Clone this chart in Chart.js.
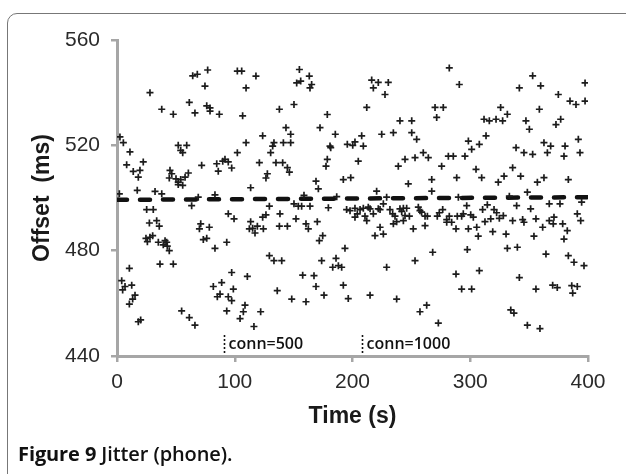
<!DOCTYPE html>
<html>
<head>
<meta charset="utf-8">
<script src="https://cdn.jsdelivr.net/npm/chart.js@4.4.1/dist/chart.umd.min.js"></script>
<style>
  html, body { margin: 0; padding: 0; background: #fff; }
  #wrap { position: relative; width: 626px; height: 474px; overflow: hidden; }
  #frame { position: absolute; left: 7px; top: 13px; width: 680px; height: 520px;
           border: 1.5px solid #777; border-radius: 10px; }
  #chart { position: absolute; left: 0; top: 0; }
  #caption { position: absolute; left: 18px; top: 440px; font-family: "Open Sans", sans-serif;
             font-size: 20px; font-weight: 600; color: #111; white-space: nowrap; letter-spacing: -0.1px; }
  #caption b { font-weight: 700; }
</style>
</head>
<body>
<div id="wrap">
  <div id="frame"></div>
  <canvas id="chart" width="626" height="474"></canvas>
  <div id="caption"><b>Figure 9</b> Jitter (phone).</div>
</div>
<script>
// axis ticks
const xTicks = [0, 100, 200, 300, 400];
const yTicks = [440, 480, 520, 560];

// jitter samples: [time (s), offset (ms)]
const jitterPoints = [
  // 0 - 100 s, upper half
  [2.5,523.2],[5.4,521],[11,517.5],[8.2,512.6],[22.3,513.7],[13.8,510.1],[19.5,510.5],[18.1,507.9],
  [28,540],[38,533.7],[47.8,531.8],[64.3,546.4],[68.2,547],[77,548.6],[74.7,542.5],[61.4,536.3],
  [66.2,532.3],[76.2,535],[79,534.2],[79,533],[86.9,531.8],[52,520],[59.2,520],[54.1,518.1],
  [55.8,517.2],[45,510.5],[46.5,509.2],[44.4,507.6],[50.1,507.3],[52,506],[54.1,507],[57.8,507.9],
  [60.6,509.5],[55.8,504.8],[52,505.1],[71.9,512.4],[84.7,513],[86,510.2],[91.7,514.7],[89.8,514],
  [94.5,513.7],[97.4,511.4],[2,501.6],[17.2,502.9],[32.3,502.5],[38,501.6],[69,500.3],[83.2,501.2],
  // 0 - 100 s, lower half
  [63.4,497.1],[25.2,495.6],[30.8,495.6],[27.5,490.5],[33.7,491.4],[35.9,489.3],[24.6,484.7],[28,485.1],
  [30.3,485.7],[25.8,483.4],[35.1,483.2],[40.8,483.8],[39.3,482.2],[42.2,483.2],[42.7,481.7],[44.4,480],
  [36.5,474.9],[47.8,474.9],[10.5,473.3],[4,468.6],[6.8,466.4],[4.8,465.1],[12.5,466.9],[15.3,463.1],
  [13.3,461.6],[10.5,459.7],[20.1,453.7],[18.1,453],[71.1,490.2],[70,488.3],[78.4,488.9],[73.3,484.2],
  [76.2,484.7],[83.2,480.9],[93.2,483.2],[94.5,494],[99.4,492.1],[97.4,471.7],[81.8,466.4],[88.9,467.9],
  [98.8,465.4],[87.5,463.5],[85.2,462.5],[94.5,462.5],[97.4,461],[93.2,457.1],[54.9,457.1],[61.4,454.6],
  [66.2,451.7],
  // 100 - 200 s, upper half
  [102.2,548.2],[105.9,548.2],[118,546.3],[109.6,541.8],[106.7,531.2],[109.6,521],[102.2,517.2],[113.5,503.9],
  [120.9,513.4],[123.7,523.6],[126.5,507.6],[127.7,509.2],[130.5,517.2],[132.2,519.7],[133.3,521],[135,513.4],
  [137.9,533.7],[140.7,513.4],[141.3,521],[143.5,526.7],[147.5,524.2],[147.5,521],[144.7,511.5],[146.4,509.8],
  [150.3,535.5],[154.9,548.8],[152.6,543.7],[156,544.4],[163.3,546.3],[165.3,543.1],[163.9,541.8],[158.8,501],
  [169,506.4],[171,503.5],[172.4,526.7],[178.6,531.7],[185.4,524.2],[180.9,519.7],[181.5,519.1],[178.6,514.7],
  [177.5,512.1],[186.6,500.5],[192.2,507],[195.6,520.4],[198.5,507.7],[200.2,520],
  // 100 - 200 s, lower half
  [129.4,496.9],[150.3,497.8],[154,496.9],[156.8,496.9],[163.9,496.9],[179.5,496.3],[195,495.6],[197.9,495.2],
  [113.5,491],[115.2,488.5],[112.4,488.3],[117.2,486.7],[119.2,489.3],[124.3,488.3],[123.7,492.7],[126.5,493.6],
  [138.4,494],[137.9,489.3],[144.7,489.3],[152,492.1],[160.5,490.2],[162.5,488.3],[170.1,491],[174.7,485.7],
  [171.8,483.8],[193.6,480.9],[129.4,478.1],[133.3,476.2],[139.9,476.2],[173.8,476.2],[186,477.1],[183.2,473.7],
  [188,474.3],[190.8,473.7],[110.7,470.2],[157.7,470.7],[167.3,470.5],[108.7,459.3],[107.3,456.8],[104.5,454.2],
  [122,456.8],[116.3,451.2],[136.1,464.8],[148.4,461.6],[160.5,460.6],[169,466.4],[175.8,463.1],[192.2,466.9],
  [196.4,461.8],
  // 200 - 300 s, upper half
  [282.2,549.4],[290.7,543.1],[216.3,544.8],[221.9,543.9],[230.4,543.9],[217.7,541.8],[227.6,539.3],[212.1,534.4],
  [270.1,534.4],[277.1,534.4],[271.5,530.6],[240.3,529.3],[250.3,529.3],[234.7,524.8],[224.8,524.2],[250.3,524.8],
  [254.5,522.3],[207.8,523.6],[202.1,521.3],[209.2,519.7],[204.9,514],[238.9,512.1],[244.6,514.7],[253.1,515.3],
  [260.1,517.2],[264.4,515.3],[275.7,512.1],[281.4,515.9],[285.6,515.9],[295.5,515.9],[298.4,521.6],[301.2,518.5],
  [247.4,505.4],[267.3,507],[267.3,502.6],[288.5,507.7],[220.5,502.6],[229,500.3],[289.9,500.3],
  // 200 - 300 s, lower half
  [202.1,496.1],[206.4,495.6],[209.2,496.1],[213.4,496.5],[214.9,495.9],[204.1,494],[202.1,492.7],[210.6,493.1],
  [212.1,491.4],[217.7,494],[221.9,495.9],[226.2,497.8],[223.4,495.6],[231.8,495.6],[234.1,494],[236.1,493.1],
  [234.7,490.2],[240.3,495.9],[243.2,496.1],[246,496.1],[241.8,494.9],[243.2,491.4],[248.3,493.1],[244.6,493.3],
  [237.5,491],[255.9,496.5],[257.3,495.2],[261.6,493.1],[263.6,493.1],[258.7,494.6],[272,493.1],[273.7,494.4],
  [276.6,495.6],[280,491.8],[282.2,493.1],[284.2,490.8],[280,490.8],[289,493.1],[292.7,493.1],[297,497.1],
  [294.1,494],[300.4,493.6],[302.6,492.7],[251.6,488.3],[261.6,489.5],[223.4,488.9],[226.2,486.3],[219.1,485.7],
  [287.9,488.3],[298.4,488.3],[229,473.7],[253.1,476.2],[268.1,479.4],[297.5,480.4],[287.9,471.1],[292.7,465.4],
  [301.2,465.4],[214.9,463.1],[237.5,461.6],[263,459.3],[257.3,456.8],[272.9,452.5],
  // 300 - 400 s, upper half
  [353,546.4],[341.7,541.8],[359.8,542.6],[374.8,539.3],[397.5,543.7],[384.7,536.8],[389.8,535.5],[397.5,536.8],
  [325.8,534.4],[331.5,531.8],[358.7,533.7],[311.7,529.9],[316.2,529.3],[321.9,529.9],[327.5,529.3],[347.3,529.3],
  [350.2,526.1],[372.8,527.9],[376.8,529.9],[313.4,523.6],[307.7,520.4],[338.9,519.1],[345.6,517.2],[353,516.6],
  [362.6,521],[368.3,519.7],[365.5,517.2],[380.5,519.7],[379.6,515.9],[391.8,522.3],[393.2,517.2],[304.9,510.9],
  [309.7,507.7],[323.8,506],[328.7,508.3],[336,511.5],[342.8,508.3],[357,506],[362.6,507.7],[383.3,507],
  [348.5,502.2],[333.2,500.7],
  // 300 - 400 s, lower half
  [339.4,497.1],[351.3,495.9],[367.1,497.8],[376.2,497.8],[394.6,498.4],[310.5,495.6],[314.5,497.4],[320.2,495.6],
  [322.4,494.4],[328.1,493.3],[324.7,492.3],[317.4,492.1],[312.5,491],[305.5,488.9],[306.8,485.5],[319.1,487.2],
  [330.4,486.3],[336,491.4],[344.5,491.8],[345.6,490.8],[355.8,492.1],[361.5,488.9],[354.1,485.5],[367.1,491.4],
  [370.5,490.2],[371.1,492.7],[378.5,490.2],[382.4,487.6],[379.6,484.4],[390.9,494],[393.8,491.4],[331.5,480.9],
  [340,481.3],[364.3,478.7],[383.3,478.1],[388.1,475.6],[396.6,474.3],[307.7,472.4],[341.7,469.8],[355.8,465.4],
  [370,466.9],[373.9,466],[386.2,466.7],[390.9,466.4],[387,463.9],[334.4,457.5],[337.1,456.3],[348.5,451.7],
  [359.2,450.4]
];

// dashed mean line
const trendTime = [0, 400];
const trendOffset = [499.3, 500.3];

// connection-count markers
const connTime = [91, 208];
const connLabel = ['conn=500', 'conn=1000'];
const connTop = 448;
const connLabelY = 444.3;

const axisGray = '#a6a6a6';
const tickFont = { family: '"Liberation Sans", Arial, sans-serif', size: 21 };
const titleFont = { family: '"Liberation Sans", Arial, sans-serif', size: 23, weight: 'bold' };

// desenha as linhas pontilhadas e os rotulos conn=...
const connMarkers = {
  id: 'connMarkers',
  afterDatasetsDraw(chart) {
    const { ctx, scales: { x, y } } = chart;
    ctx.save();
    connTime.forEach((t, i) => {
      const px = Math.round(x.getPixelForValue(t)) + 0.5;
      ctx.setLineDash([2, 2]);
      ctx.lineWidth = 1.6;
      ctx.strokeStyle = '#111';
      ctx.beginPath();
      ctx.moveTo(px, y.getPixelForValue(connTop));
      ctx.lineTo(px, y.getPixelForValue(440) - 1);
      ctx.stroke();
      ctx.setLineDash([]);
      ctx.fillStyle = '#111';
      ctx.font = '600 16px "Open Sans", sans-serif';
      ctx.textBaseline = 'middle';
      ctx.fillText(connLabel[i], px + 4, y.getPixelForValue(connLabelY));
    });
    ctx.restore();
  }
};

new Chart(document.getElementById('chart'), {
  type: 'scatter',
  data: {
    datasets: [
      {
        type: 'line',
        data: trendTime.map((t, i) => ({ x: t, y: trendOffset[i] })),
        borderColor: '#111',
        borderWidth: 4.5,
        borderDash: [10, 13],
        borderCapStyle: 'round',
        pointRadius: 0,
        order: 2
      },
      {
        data: jitterPoints.map(p => ({ x: p[0], y: p[1] })),
        pointStyle: 'cross',
        pointRadius: 3.5,
        pointBorderWidth: 1.7,
        borderColor: '#1c1c1c',
        backgroundColor: '#1c1c1c',
        order: 1
      }
    ]
  },
  options: {
    responsive: false,
    animation: false,
    devicePixelRatio: 1,
    layout: { padding: { top: 40, right: 38, left: 0, bottom: 0 } },
    plugins: { legend: { display: false }, tooltip: { enabled: false } },
    scales: {
      x: {
        type: 'linear',
        min: xTicks[0],
        max: xTicks[xTicks.length - 1],
        afterBuildTicks: s => { s.ticks = xTicks.map(v => ({ value: v })); },
        afterFit: s => { s.height = 118; },
        ticks: { font: tickFont, color: '#2a2a2a', padding: 8 },
        grid: { drawOnChartArea: false, tickLength: 6, color: axisGray, lineWidth: 2.5 },
        border: { color: axisGray, width: 3 },
        title: { display: true, text: 'Time (s)', font: titleFont, color: '#1a1a1a',
                 padding: { top: 6, bottom: 44 } }
      },
      y: {
        min: yTicks[0],
        max: yTicks[yTicks.length - 1],
        afterBuildTicks: s => { s.ticks = yTicks.map(v => ({ value: v })); },
        afterFit: s => { s.width = 117; },
        ticks: { font: tickFont, color: '#2a2a2a', padding: 11 },
        grid: { drawOnChartArea: false, tickLength: 6, color: axisGray, lineWidth: 2.5 },
        border: { color: axisGray, width: 3 },
        title: { display: true, text: 'Offset  (ms)', font: titleFont, color: '#1a1a1a',
                 padding: { top: 29, bottom: 6 } }
      }
    }
  },
  plugins: [connMarkers]
});
</script>
</body>
</html>
